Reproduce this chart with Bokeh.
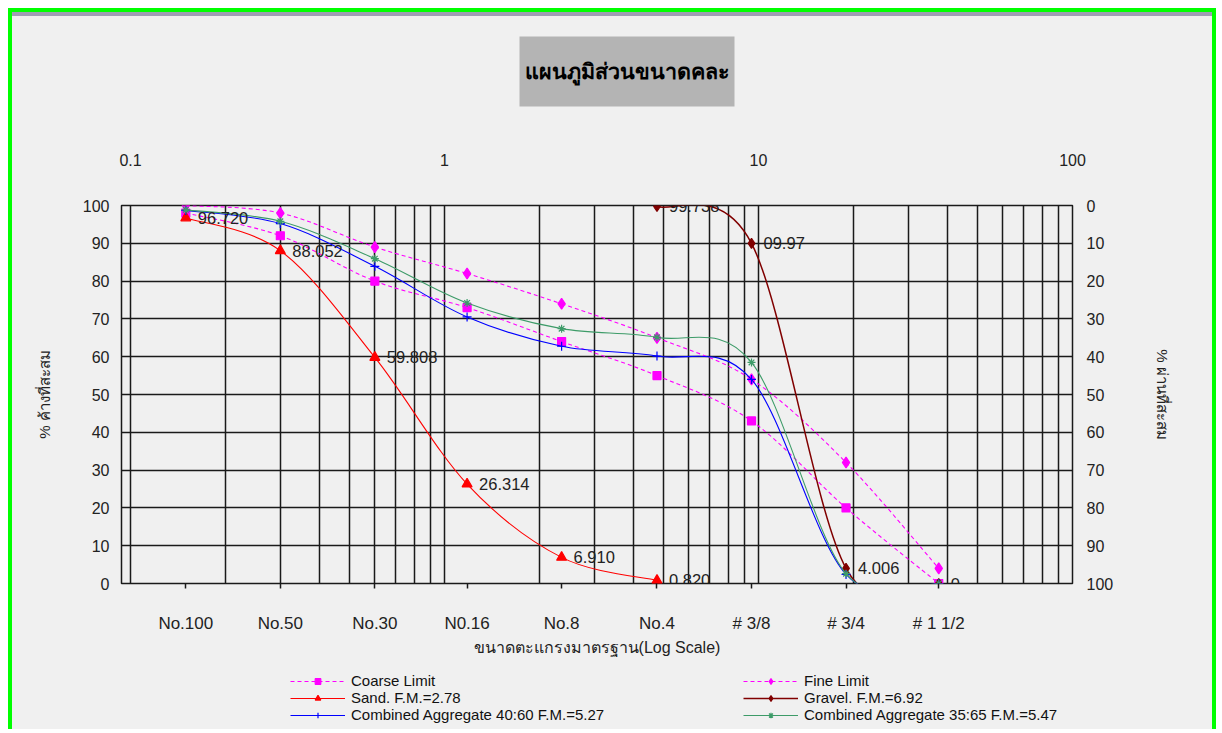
import math
import numpy as np
from bokeh.plotting import figure
from bokeh.models import (Range1d, LogAxis, LinearAxis, FixedTicker, Grid, Legend, LegendItem,
                          ColumnDataSource, Title, CustomJSTickFormatter)
from bokeh.core.properties import value
from bokeh.embed import file_html
from bokeh.resources import INLINE

# ---------------- data ----------------
sieve_names = ["No.100", "No.50", "No.30", "N0.16", "No.8", "No.4", "# 3/8", "# 3/4", "# 1 1/2"]
sieve_sizes = [0.15, 0.3, 0.6, 1.18, 2.36, 4.75, 9.5, 19.0, 37.5]

coarse_limit = [98, 92, 80, 73, 64, 55, 43, 20, 0]
fine_limit = [100, 98, 89, 82, 74, 65, 54, 32, 4]

sand_sizes = [0.15, 0.3, 0.6, 1.18, 2.36, 4.75]
sand = [96.72, 88.052, 59.808, 26.314, 6.91, 0.82]
sand_labels = ["96.720", "88.052", "59.808", "26.314", "6.910", "0.820"]

gravel_sizes = [4.75, 9.5, 19.0, 37.5]
gravel = [99.738, 89.97, 4.006, 0]
gravel_labels = ["99.738", "09.97", "4.006", "0"]

comb_40_60 = [98.69, 95.22, 83.92, 70.53, 62.76, 60.17, 53.98, 2.40, 0]
comb_35_65 = [98.85, 95.82, 85.93, 74.21, 67.42, 65.12, 58.48, 2.60, 0]

top_ticks = [0.1, 1, 10, 100]
pct_ticks = [0, 10, 20, 30, 40, 50, 60, 70, 80, 90, 100]

title_text = "แผนภูมิส่วนขนาดคละ"
left_label = "% ค้างที่สะสม"
right_label = "% ผ่านที่สะสม"
bottom_label = "ขนาดตะแกรงมาตรฐาน(Log Scale)"

legend_names = ["Coarse Limit", "Fine Limit", "Sand. F.M.=2.78", "Gravel. F.M.=6.92",
                "Combined Aggregate 40:60 F.M.=5.27", "Combined Aggregate 35:65 F.M.=5.47"]

FONT = "Liberation Sans"
BG = "#f0f0f0"
GRID = "#1a1a1a"
GREEN = "4px solid #00ff00"


def smooth_source(xs, ys):
    """Excel-like smoothed line: cubic Bezier segments (Catmull-Rom) in log-x space."""
    lx = [math.log10(x) for x in xs]
    n = len(xs)
    d = dict(x0=[], y0=[], x1=[], y1=[], cx0=[], cy0=[], cx1=[], cy1=[])
    for i in range(n - 1):
        a = max(i - 1, 0)
        b = min(i + 2, n - 1)
        c0x = lx[i] + (lx[i + 1] - lx[a]) / 6.0
        c0y = ys[i] + (ys[i + 1] - ys[a]) / 6.0
        c1x = lx[i + 1] - (lx[b] - lx[i]) / 6.0
        c1y = ys[i + 1] - (ys[b] - ys[i]) / 6.0
        d["x0"].append(xs[i]); d["y0"].append(ys[i])
        d["x1"].append(xs[i + 1]); d["y1"].append(ys[i + 1])
        d["cx0"].append(10 ** c0x); d["cy0"].append(c0y)
        d["cx1"].append(10 ** c1x); d["cy1"].append(c1y)
    return ColumnDataSource(d)


p = figure(width=1208, height=655, x_axis_type="log",
           x_range=Range1d(0.0936, 100), y_range=Range1d(0, 100),
           output_backend="svg", toolbar_location=None,
           min_border_left=109, min_border_right=148, min_border_top=189, min_border_bottom=88,
           background_fill_color=BG, border_fill_color=BG,
           styles={"border-left": GREEN, "border-right": GREEN, "border-top": GREEN,
                   "padding-top": "4px", "background-color": BG,
                   "box-shadow": "inset 0 4px 0 0 #a09cb4",
                   "margin-left": "8px", "margin-top": "8px"})
p.outline_line_color = GRID
p.outline_line_width = 1.5

# ----- grids -----
p.xgrid.visible = False
p.ygrid.ticker = FixedTicker(ticks=pct_ticks)
p.ygrid.grid_line_color = GRID
p.ygrid.grid_line_width = 1.5
grid_vals = [m * 10 ** e for e in (-1, 0, 1) for m in range(1, 10)] + [100]
p.add_layout(Grid(dimension=0, ticker=FixedTicker(ticks=grid_vals),
                  grid_line_color=GRID, grid_line_width=1.5))

# ----- bottom axis (sieve names) -----
xb = p.xaxis[0]
xb.ticker = FixedTicker(ticks=sieve_sizes, minor_ticks=[])
xb.formatter = CustomJSTickFormatter(args=dict(sv=sieve_sizes, sn=sieve_names), code="""
    for (let i = 0; i < sv.length; i++) { if (Math.abs(sv[i] - tick) < 1e-6) return sn[i]; }
    return "";
""")
xb.axis_line_color = None
xb.major_tick_out = 5
xb.major_tick_in = 0
xb.major_tick_line_color = GRID
xb.major_tick_line_width = 1.5
xb.minor_tick_line_color = None
xb.major_label_standoff = 25
xb.major_label_text_font = FONT
xb.major_label_text_font_size = "17px"
xb.major_label_text_color = "#222222"
xb.axis_label = bottom_label
xb.axis_label_standoff = 3
xb.axis_label_text_font = FONT
xb.axis_label_text_font_size = "16px"
xb.axis_label_text_font_style = "normal"
xb.axis_label_text_color = "#222222"

# ----- top axis -----
xt = LogAxis(ticker=FixedTicker(ticks=top_ticks, minor_ticks=[]),
             formatter=CustomJSTickFormatter(code="return tick.toString();"))
xt.axis_line_color = None
xt.major_tick_out = 0
xt.major_tick_in = 0
xt.minor_tick_line_color = None
xt.major_label_standoff = 40
xt.major_label_text_font = FONT
xt.major_label_text_font_size = "16px"
xt.major_label_text_color = "#222222"
p.add_layout(xt, "above")

# blank spacer between the top axis and the title (background-coloured tick, empty label)
spacer = LogAxis(ticker=FixedTicker(ticks=[1], minor_ticks=[]),
                 formatter=CustomJSTickFormatter(code="return '';"),
                 axis_line_color=None, major_tick_out=44, major_tick_in=0, minor_tick_out=0,
                 major_tick_line_color=BG, minor_tick_line_color=None,
                 major_label_standoff=0, major_label_text_font_size="1px")
p.add_layout(spacer, "above")

# ----- left axis -----
yl = p.yaxis[0]
yl.ticker = FixedTicker(ticks=pct_ticks)
yl.axis_line_color = None
yl.major_tick_out = 0
yl.major_tick_in = 0
yl.minor_tick_line_color = None
yl.major_label_standoff = 12
yl.major_label_text_font = FONT
yl.major_label_text_font_size = "16px"
yl.major_label_text_color = "#222222"
yl.axis_label = left_label
yl.axis_label_standoff = 27
yl.axis_label_text_font = FONT
yl.axis_label_text_font_size = "15px"
yl.axis_label_text_font_style = "normal"
yl.axis_label_text_color = "#222222"

# ----- right axis (reversed) -----
p.extra_y_ranges = {"rev": Range1d(100, 0)}
yr = LinearAxis(y_range_name="rev", ticker=FixedTicker(ticks=pct_ticks))
yr.axis_line_color = None
yr.major_tick_out = 0
yr.major_tick_in = 0
yr.minor_tick_line_color = None
yr.major_label_standoff = 14
yr.major_label_text_font = FONT
yr.major_label_text_font_size = "16px"
yr.major_label_text_color = "#222222"
yr.axis_label = right_label
yr.axis_label_standoff = 38
yr.axis_label_text_font = FONT
yr.axis_label_text_font_size = "15px"
yr.axis_label_text_font_style = "normal"
yr.axis_label_text_color = "#222222"
p.add_layout(yr, "right")

# ----- title -----
p.title = Title(text=title_text, align="left", offset=398, standoff=0,
                text_font=FONT, text_font_size="21.5px", text_font_style="bold", text_color="#000000",
                background_fill_color="#b4b4b4",
                padding=dict(left=5, right=5, top=23, bottom=23))

# ----- series -----
MAG = "#ff00ff"
series = [
    (sieve_sizes, coarse_limit, MAG, "dashed", "square", 8),
    (sieve_sizes, fine_limit, MAG, "dashed", "diamond", 11),
    (sand_sizes, sand, "#ff0000", "solid", "triangle", 10),
    (gravel_sizes, gravel, "#800000", "solid", "diamond", 10),
    (sieve_sizes, comb_40_60, "#0000ff", "solid", "cross", 9),
    (sieve_sizes, comb_35_65, "#3d9b68", "solid", "asterisk", 8),
]

# legend strip below the chart (its own small figure, separate root)
lg = figure(width=1208, height=66, x_range=Range1d(0, 1), y_range=Range1d(0, 1),
            output_backend="svg", toolbar_location=None,
            x_axis_location=None, y_axis_location=None,
            min_border_left=0, min_border_right=0, min_border_top=0, min_border_bottom=0,
            background_fill_color=BG, border_fill_color=BG, outline_line_color=None,
            styles={"border-left": GREEN, "border-right": GREEN, "margin-left": "8px",
                    "background-color": BG})
lg.xgrid.visible = False
lg.ygrid.visible = False

nan_pt = np.array([np.nan])
items = []
for (xs, ys, col, dash, mk, sz), name in zip(series, legend_names):
    lw = 1.5 if col == "#800000" else 1.1
    ld = "4 3" if dash == "dashed" else "solid"
    p.bezier(x0="x0", y0="y0", x1="x1", y1="y1", cx0="cx0", cy0="cy0", cx1="cx1", cy1="cy1",
             source=smooth_source(xs, ys), line_color=col, line_width=lw, line_dash=ld)
    p.scatter(xs, ys, marker=mk, size=sz, fill_color=col, line_color=col, line_width=1.2)
    # legend proxies (style only, no visible data)
    l_line = lg.line(x=nan_pt, y=nan_pt, line_color=col, line_width=lw, line_dash=ld)
    l_pts = lg.scatter(x=nan_pt, y=nan_pt, marker=mk, size=sz, fill_color=col, line_color=col, line_width=1.2)
    items.append(LegendItem(label=name, renderers=[l_line, l_pts]))

# data labels
p.text(sand_sizes, sand, text=sand_labels, x_offset=12, text_baseline="middle",
       text_font=value(FONT), text_font_size=value("16.5px"), text_color="#222222")
p.text(gravel_sizes, gravel, text=gravel_labels, x_offset=12, text_baseline="middle",
       text_font=value(FONT), text_font_size=value("16.5px"), text_color="#222222")

order = [0, 2, 4, 1, 3, 5]
legend = Legend(items=[items[i] for i in order], location=(278, 6), orientation="vertical", ncols=2,
                padding=0, margin=0, spacing=0, glyph_width=55, glyph_height=14,
                label_height=14, label_width=392, label_standoff=6,
                label_text_font=FONT, label_text_font_size="15px", label_text_color="#111111",
                border_line_alpha=0, background_fill_alpha=0)
lg.add_layout(legend, "center")

open("out.html", "w").write(file_html([p, lg], INLINE))
